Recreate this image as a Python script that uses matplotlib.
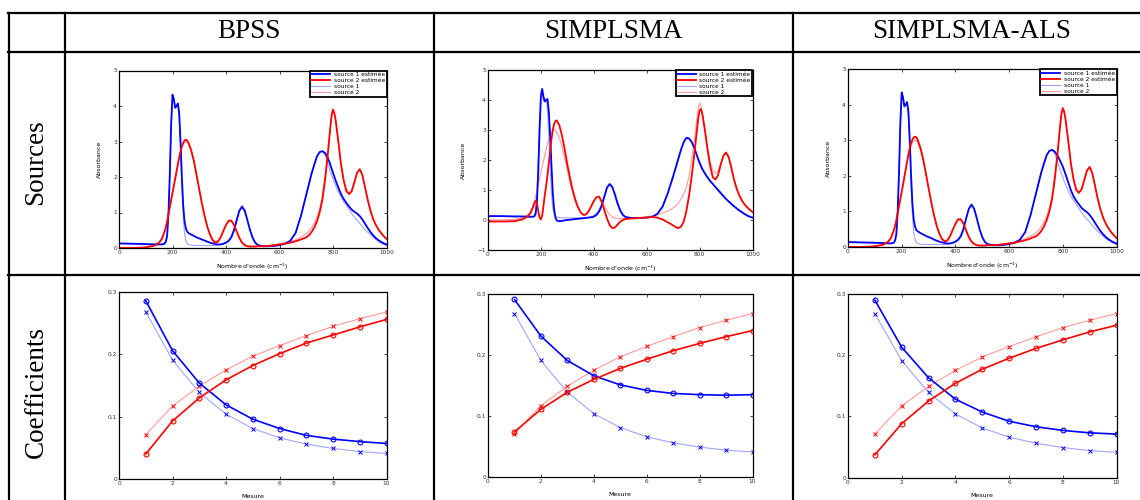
import matplotlib
matplotlib.use("Agg")
import matplotlib.pyplot as plt
from matplotlib.lines import Line2D

# Nombres d'onde (axe commun des spectres)
wn = [0, 50, 100, 130, 150, 160, 170,
      175, 180, 185, 190, 195, 200, 205, 210, 215, 220, 225, 230, 235, 240, 245, 250, 255, 260,
      270, 280, 290, 300, 310, 320, 330, 340, 350, 360, 370, 380, 390, 400, 410, 420, 430, 440,
      450, 460, 470, 480, 490, 500,
      510, 520,
      540, 560, 580, 600, 620, 640, 660, 680, 700,
      710, 720, 730, 740, 750, 760, 770, 780, 790,
      795, 800, 805, 810,
      820, 830, 840, 850, 860, 870, 880, 890, 900, 910, 920, 930, 940, 950, 960, 970, 980, 990, 1000]

# Sources vraies
s1_true = [0.12, 0.12, 0.11, 0.11, 0.10, 0.10, 0.11,
           0.15, 0.3, 0.9, 2.0, 3.4, 4.3, 4.2, 3.95, 4.0, 4.05, 3.7, 2.8, 1.7, 0.9, 0.4, 0.2, 0.12, 0.1,
           0.08, 0.07, 0.07, 0.07, 0.07, 0.07, 0.07, 0.07, 0.07, 0.07, 0.08, 0.09, 0.11, 0.15, 0.22, 0.35, 0.55, 0.82,
           1.08, 1.2, 1.08, 0.8, 0.5, 0.28,
           0.14, 0.08,
           0.05, 0.05, 0.06, 0.08, 0.12, 0.2, 0.42, 0.9, 1.5,
           1.8, 2.1, 2.35, 2.58, 2.7, 2.72, 2.62, 2.4, 2.15,
           2.05, 1.95, 1.85, 1.75,
           1.58, 1.43, 1.3, 1.2, 1.08, 0.97, 0.87, 0.78, 0.7, 0.6, 0.52, 0.44, 0.37, 0.3, 0.24, 0.19, 0.14, 0.1, 0.07]
s2_true = [0.0, 0.0, 0.02, 0.07, 0.17, 0.28, 0.48,
           0.6, 0.78, 0.98, 1.18, 1.38, 1.58, 1.78, 1.98, 2.18, 2.38, 2.56, 2.72, 2.84, 2.93, 2.98, 3.0, 2.98, 2.92,
           2.72, 2.42, 2.05, 1.65, 1.26, 0.92, 0.62, 0.4, 0.25, 0.18, 0.2, 0.31, 0.48, 0.64, 0.75, 0.76, 0.65, 0.47,
           0.3, 0.17, 0.1, 0.06, 0.05, 0.05,
           0.05, 0.05,
           0.06, 0.07, 0.09, 0.11, 0.14, 0.18, 0.23, 0.3, 0.4,
           0.47, 0.57, 0.7, 0.87, 1.1, 1.45, 2.0, 2.65, 3.4,
           3.75, 3.9, 3.8, 3.58,
           2.98, 2.38, 1.92, 1.65, 1.55, 1.63, 1.88, 2.13, 2.22, 2.05, 1.7, 1.35, 1.05, 0.82, 0.65, 0.52, 0.42, 0.33, 0.26]

# BPSS : sources estimées
bpss_s1 = [0.13, 0.12, 0.11, 0.1, 0.1, 0.1, 0.12,
           0.18, 0.35, 1.0, 2.1, 3.5, 4.32, 4.2, 3.95, 4.0, 4.07, 3.8, 3.0, 2.0, 1.2, 0.75, 0.55, 0.46, 0.42,
           0.38, 0.34, 0.3, 0.27, 0.24, 0.21, 0.18, 0.15, 0.13, 0.11, 0.1, 0.1, 0.12, 0.15, 0.2, 0.3, 0.5, 0.78,
           1.05, 1.16, 1.05, 0.78, 0.5, 0.28,
           0.14, 0.08,
           0.05, 0.05, 0.06, 0.08, 0.12, 0.2, 0.42, 0.9, 1.5,
           1.8, 2.1, 2.35, 2.58, 2.7, 2.73, 2.68, 2.55, 2.35,
           2.23, 2.12, 2.01, 1.9,
           1.7, 1.52, 1.38, 1.27, 1.17, 1.08, 1.02, 0.97, 0.9, 0.8, 0.68, 0.56, 0.45, 0.36, 0.28, 0.22, 0.17, 0.13, 0.1]
bpss_s2 = [0.0, 0.0, 0.02, 0.06, 0.15, 0.25, 0.45,
           0.58, 0.75, 0.95, 1.15, 1.35, 1.55, 1.75, 1.95, 2.15, 2.35, 2.55, 2.72, 2.86, 2.96, 3.03, 3.05, 3.03, 2.96,
           2.75, 2.45, 2.05, 1.65, 1.25, 0.9, 0.6, 0.38, 0.22, 0.15, 0.18, 0.3, 0.48, 0.65, 0.77, 0.77, 0.65, 0.46,
           0.28, 0.15, 0.08, 0.05, 0.04, 0.04,
           0.04, 0.05,
           0.05, 0.06, 0.08, 0.1, 0.12, 0.15, 0.19, 0.24, 0.3,
           0.36, 0.45, 0.58, 0.75, 1.0, 1.35, 1.9, 2.6, 3.4,
           3.75, 3.9, 3.8, 3.6,
           3.0, 2.35, 1.9, 1.6, 1.52, 1.6, 1.85, 2.12, 2.22, 2.05, 1.7, 1.35, 1.05, 0.82, 0.65, 0.52, 0.42, 0.33, 0.26]

# SIMPLSMA : sources estimées
smp_s1 = [0.13, 0.13, 0.12, 0.12, 0.11, 0.11, 0.11,
          0.12, 0.2, 0.6, 1.6, 3.0, 4.1, 4.37, 4.1, 3.95, 4.0, 4.03, 3.6, 2.8, 1.8, 0.9, 0.35, 0.08, -0.02,
          -0.04, -0.03, -0.01, 0.0, 0.01, 0.02, 0.03, 0.04, 0.05, 0.06, 0.07, 0.08, 0.09, 0.11, 0.17, 0.28, 0.48, 0.78,
          1.08, 1.2, 1.1, 0.85, 0.55, 0.32,
          0.17, 0.1,
          0.07, 0.07, 0.07, 0.08, 0.1, 0.2, 0.45, 0.9, 1.45,
          1.75, 2.05, 2.35, 2.6, 2.74, 2.72, 2.6, 2.4, 2.15,
          2.02, 1.9, 1.8, 1.7,
          1.55, 1.42, 1.3, 1.2, 1.1, 1.0, 0.9, 0.8, 0.7, 0.62, 0.54, 0.46, 0.39, 0.32, 0.26, 0.2, 0.15, 0.11, 0.08]
smp_s2 = [-0.05, -0.05, -0.04, 0.02, 0.12, 0.22, 0.42,
          0.55, 0.64, 0.55, 0.3, 0.08, 0.02, 0.15, 0.5, 0.85, 1.15, 1.5, 1.9, 2.3, 2.7, 3.0, 3.2, 3.3, 3.32,
          3.15, 2.8, 2.35, 1.85, 1.4, 1.0, 0.68, 0.43, 0.26, 0.17, 0.18, 0.28, 0.45, 0.63, 0.76, 0.78, 0.6, 0.32,
          0.05, -0.17, -0.27, -0.25, -0.15, -0.06,
          0.0, 0.03,
          0.05, 0.06, 0.07, 0.08, 0.1, 0.08, 0.02, -0.08, -0.18,
          -0.24, -0.27, -0.22, -0.05, 0.3, 0.8, 1.45, 2.2, 3.0,
          3.4, 3.65, 3.7, 3.55,
          3.0, 2.35, 1.8, 1.42, 1.35, 1.5, 1.85, 2.15, 2.25, 2.1, 1.75, 1.35, 1.05, 0.82, 0.65, 0.52, 0.42, 0.34, 0.27]

# SIMPLSMA-ALS : sources estimées
als_s1 = [0.14, 0.13, 0.12, 0.11, 0.1, 0.1, 0.12,
          0.18, 0.36, 1.0, 2.1, 3.5, 4.34, 4.2, 3.95, 4.0, 4.07, 3.8, 3.0, 2.0, 1.2, 0.76, 0.56, 0.47, 0.44,
          0.39, 0.35, 0.31, 0.28, 0.25, 0.21, 0.18, 0.15, 0.13, 0.11, 0.1, 0.1, 0.12, 0.15, 0.2, 0.3, 0.5, 0.8,
          1.07, 1.19, 1.07, 0.8, 0.5, 0.28,
          0.14, 0.08,
          0.05, 0.05, 0.06, 0.08, 0.12, 0.2, 0.42, 0.9, 1.5,
          1.8, 2.1, 2.35, 2.58, 2.7, 2.73, 2.68, 2.57, 2.42,
          2.34, 2.26, 2.15, 2.05,
          1.82, 1.6, 1.42, 1.3, 1.2, 1.1, 1.03, 0.98, 0.9, 0.8, 0.68, 0.56, 0.45, 0.36, 0.28, 0.22, 0.17, 0.13, 0.1]
als_s2 = [0.0, 0.0, 0.02, 0.06, 0.15, 0.25, 0.45,
          0.58, 0.75, 0.95, 1.15, 1.35, 1.55, 1.75, 1.97, 2.18, 2.4, 2.6, 2.78, 2.92, 3.02, 3.08, 3.1, 3.08, 3.0,
          2.78, 2.47, 2.07, 1.66, 1.26, 0.9, 0.6, 0.38, 0.22, 0.16, 0.18, 0.3, 0.48, 0.65, 0.78, 0.78, 0.66, 0.46,
          0.28, 0.15, 0.08, 0.05, 0.04, 0.04,
          0.04, 0.05,
          0.05, 0.06, 0.08, 0.1, 0.12, 0.15, 0.19, 0.24, 0.3,
          0.36, 0.45, 0.58, 0.75, 1.0, 1.35, 1.9, 2.6, 3.4,
          3.75, 3.9, 3.8, 3.6,
          3.0, 2.35, 1.9, 1.6, 1.52, 1.62, 1.88, 2.15, 2.25, 2.07, 1.72, 1.36, 1.06, 0.83, 0.66, 0.53, 0.42, 0.33, 0.25]

# Coefficients (mesures 1..10)
mesure = [1, 2, 3, 4, 5, 6, 7, 8, 9, 10]
c1_true = [0.268, 0.191, 0.139, 0.104, 0.081, 0.066, 0.056, 0.049, 0.044, 0.041]
c2_true = [0.071, 0.117, 0.149, 0.175, 0.197, 0.214, 0.230, 0.245, 0.257, 0.268]
bpss_c1 = [0.286, 0.206, 0.154, 0.119, 0.096, 0.081, 0.070, 0.064, 0.060, 0.057]
bpss_c2 = [0.040, 0.093, 0.130, 0.159, 0.182, 0.201, 0.218, 0.231, 0.244, 0.256]
smp_c1 = [0.291, 0.231, 0.191, 0.166, 0.151, 0.142, 0.137, 0.135, 0.134, 0.135]
smp_c2 = [0.074, 0.111, 0.139, 0.160, 0.178, 0.193, 0.207, 0.219, 0.230, 0.240]
als_c1 = [0.290, 0.213, 0.163, 0.128, 0.107, 0.092, 0.083, 0.077, 0.073, 0.071]
als_c2 = [0.037, 0.088, 0.125, 0.154, 0.177, 0.195, 0.211, 0.225, 0.238, 0.249]

methods = ["BPSS", "SIMPLSMA", "SIMPLSMA-ALS"]
rows = ["Sources", "Coefficients"]
legend_labels = ["source 1 estimée", "source 2 estimée", "source 1", "source 2"]

W, H = 1140, 500
fig = plt.figure(figsize=(W / 100, H / 100), dpi=100)

def box(l, r, t, b):
    return [l / W, 1 - b / H, (r - l) / W, (b - t) / H]

BLUE, RED = (0, 0, 1), (1, 0, 0)
LBLUE, LRED = "#a3a3ff", "#ff9a9a"

# cadre du tableau
for y in [12.5, 51.5, 274.5]:
    fig.add_artist(Line2D([8 / W, 1], [1 - y / H] * 2, color="k", lw=1.6, transform=fig.transFigure))
for x in [8.5, 65, 433.5, 793]:
    fig.add_artist(Line2D([x / W] * 2, [0, 1 - 12.5 / H], color="k", lw=1.6, transform=fig.transFigure))

serif = ["Liberation Serif", "DejaVu Serif"]
for name, xc in zip(methods, [249, 613, 972]):
    fig.text(xc / W, 1 - 32 / H, name, ha="center", va="center", fontsize=19.5, family=serif)
for name, yc in zip(rows, [162, 392]):
    fig.text(36 / W, 1 - yc / H, name, ha="center", va="center", rotation=90, fontsize=19.5, family=serif)

top_pos = [box(119, 386.5, 70.5, 248), box(488, 752.5, 70, 250), box(848, 1116.5, 69, 247)]
bot_pos = [box(119, 386.5, 292, 479), box(488, 752.5, 294, 477), box(848, 1116.5, 294, 477.5)]
est_src = [(bpss_s1, bpss_s2), (smp_s1, smp_s2), (als_s1, als_s2)]
est_coef = [(bpss_c1, bpss_c2), (smp_c1, smp_c2), (als_c1, als_c2)]

def style(ax):
    ax.tick_params(direction="in", top=True, right=True, length=2.5, width=0.5,
                   labelsize=4.2, pad=1.5, colors="k", labelcolor="#333333")
    for sp in ax.spines.values():
        sp.set_linewidth(0.9)

for i in range(3):
    ax = fig.add_axes(top_pos[i])
    e1, e2 = est_src[i]
    t1, = ax.plot(wn, s1_true, color=LBLUE, lw=0.8, label=legend_labels[2])
    t2, = ax.plot(wn, s2_true, color=LRED, lw=0.8, label=legend_labels[3])
    h1, = ax.plot(wn, e1, color=BLUE, lw=1.3, label=legend_labels[0])
    h2, = ax.plot(wn, e2, color=RED, lw=1.3, label=legend_labels[1])
    ax.set_xlim(0, 1000)
    ax.set_ylim(-1 if i == 1 else 0, 5)
    ax.set_xticks(range(0, 1001, 200))
    ax.set_yticks(range(-1 if i == 1 else 0, 6))
    ax.set_xlabel("Nombre d'onde (cm$^{-1}$)", fontsize=4.5, labelpad=5)
    ax.set_ylabel("Absorbance", fontsize=4.5, labelpad=8)
    style(ax)
    leg = ax.legend(handles=[h1, h2, t1, t2], loc="upper right", fontsize=4.2, borderaxespad=0,
                    fancybox=False, framealpha=1, edgecolor="k", handlelength=3.2,
                    labelspacing=0.15, borderpad=0.3, handletextpad=0.6)
    leg.get_frame().set_linewidth(1.3)

for i in range(3):
    ax = fig.add_axes(bot_pos[i])
    c1, c2 = est_coef[i]
    ax.plot(mesure, c1_true, color=LBLUE, lw=0.8, marker="x", ms=3, mec=BLUE, mew=0.7)
    ax.plot(mesure, c2_true, color=LRED, lw=0.8, marker="x", ms=3, mec=RED, mew=0.7)
    ax.plot(mesure, c1, color=BLUE, lw=1.2, marker="o", ms=3.5, mfc="none", mew=0.8)
    ax.plot(mesure, c2, color=RED, lw=1.2, marker="o", ms=3.5, mfc="none", mew=0.8)
    ax.set_xlim(0, 10)
    ax.set_ylim(0, 0.3)
    ax.set_xticks(range(0, 11, 2))
    ax.set_yticks([0, 0.1, 0.2, 0.3])
    ax.set_yticklabels(["0", "0.1", "0.2", "0.3"])
    ax.set_xlabel("Mesure", fontsize=4.5, labelpad=6)
    style(ax)

fig.savefig("out.png", dpi=100)
